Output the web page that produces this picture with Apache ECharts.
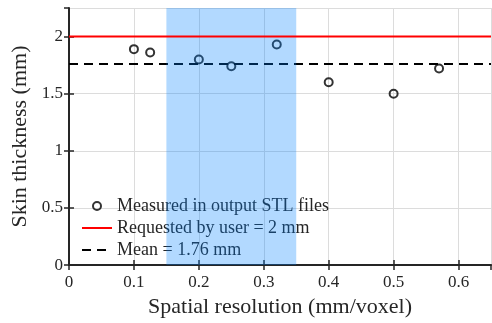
<!DOCTYPE html>
<html>
<head>
<meta charset="utf-8">
<script src="https://cdn.jsdelivr.net/npm/echarts@6/dist/echarts.min.js"></script>
<style>
  html, body { margin: 0; padding: 0; background: #fff; }
  #chart { width: 492px; height: 323px; }
</style>
</head>
<body>
<div id="chart"></div>
<script>
// 数据
var resolution = [0.1, 0.125, 0.2, 0.25, 0.32, 0.4, 0.5, 0.57];
var thickness = [1.89, 1.86, 1.80, 1.74, 1.93, 1.60, 1.50, 1.72];
var xRange = [0, 0.65];
var requestedValue = 2;
var meanValue = 1.76;
var bandRange = [0.15, 0.35];
var seriesNames = ['Measured in output STL files', 'Requested by user = 2 mm', 'Mean = 1.76 mm'];

var font = 'Liberation Serif, serif';
var axisColor = '#262626';

var measured = resolution.map(function (x, i) { return [x, thickness[i]]; });
var requested = xRange.map(function (x) { return [x, requestedValue]; });
var mean = xRange.map(function (x) { return [x, meanValue]; });

var chart = echarts.init(document.getElementById('chart'));
var option = {
  animation: false,
  textStyle: { fontFamily: font },
  grid: { left: 69, right: 1, top: 8, bottom: 55, containLabel: false },
  legend: {
    orient: 'vertical',
    left: 76, top: 192,
    itemWidth: 30, itemHeight: 8, itemGap: 4,
    textStyle: { fontFamily: font, fontSize: 18, color: axisColor },
    data: [
      { name: seriesNames[0] },
      { name: seriesNames[1], itemStyle: { opacity: 0 } },
      { name: seriesNames[2], itemStyle: { opacity: 0 } }
    ]
  },
  xAxis: [{
    type: 'value', min: 0, max: 0.65, interval: 0.1,
    name: 'Spatial resolution (mm/voxel)', nameLocation: 'middle', nameGap: 29,
    nameTextStyle: { fontFamily: font, fontSize: 22, color: axisColor },
    axisLine: { show: true, lineStyle: { color: axisColor, width: 2 } },
    axisTick: { show: true, inside: true, length: 5, lineStyle: { color: axisColor, width: 1.5 } },
    axisLabel: { fontFamily: font, fontSize: 17, color: axisColor, margin: 9, showMaxLabel: false,
      formatter: function (v) { return v === 0 ? '0' : v.toFixed(1); } },
    splitLine: { show: true, lineStyle: { color: '#dcdcdc', width: 1 } }
  }, {
    type: 'value', position: 'top', min: 0, max: 0.65, interval: 0.1,
    axisLine: { show: true, lineStyle: { color: axisColor, width: 1.5 } },
    axisTick: { show: true, inside: true, length: 5, lineStyle: { color: axisColor, width: 1.5 } },
    axisLabel: { show: false }, splitLine: { show: false }
  }],
  yAxis: [{
    type: 'value', min: 0, max: 2.25, interval: 0.5,
    name: 'Skin thickness (mm)', nameLocation: 'middle', nameGap: 34,
    nameTextStyle: { fontFamily: font, fontSize: 22, color: axisColor },
    axisLine: { show: true, lineStyle: { color: axisColor, width: 2 } },
    axisTick: { show: true, inside: true, length: 5, lineStyle: { color: axisColor, width: 1.5 } },
    axisLabel: { fontFamily: font, fontSize: 17, color: axisColor, margin: 6, showMaxLabel: false },
    splitLine: { show: true, lineStyle: { color: '#dcdcdc', width: 1 } }
  }, {
    type: 'value', position: 'right', min: 0, max: 2.25, interval: 0.5,
    axisLine: { show: false },
    axisTick: { show: true, inside: true, length: 5, lineStyle: { color: axisColor, width: 1.5 } },
    axisLabel: { show: false }, splitLine: { show: false }
  }],
  series: [{
    name: seriesNames[0],
    type: 'scatter',
    data: measured,
    symbol: 'circle', symbolSize: 8,
    itemStyle: { color: 'rgba(255,255,255,0)', borderColor: '#000', borderWidth: 2 },
    z: 2
  }, {
    name: seriesNames[1],
    type: 'line',
    data: requested,
    symbol: 'none',
    lineStyle: { color: '#ff0000', width: 2 },
    itemStyle: { color: '#ff0000' },
    z: 5
  }, {
    name: seriesNames[2],
    type: 'line',
    data: mean,
    symbol: 'none',
    lineStyle: { color: '#000', width: 2, type: [9, 6] },
    itemStyle: { color: '#000' },
    z: 2,
    markArea: {
      silent: true,
      z: 4,
      itemStyle: { color: 'rgba(0,128,255,0.3)' },
      data: [[{ xAxis: bandRange[0] }, { xAxis: bandRange[1] }]]
    }
  }]
};
chart.setOption(option);
</script>
</body>
</html>
